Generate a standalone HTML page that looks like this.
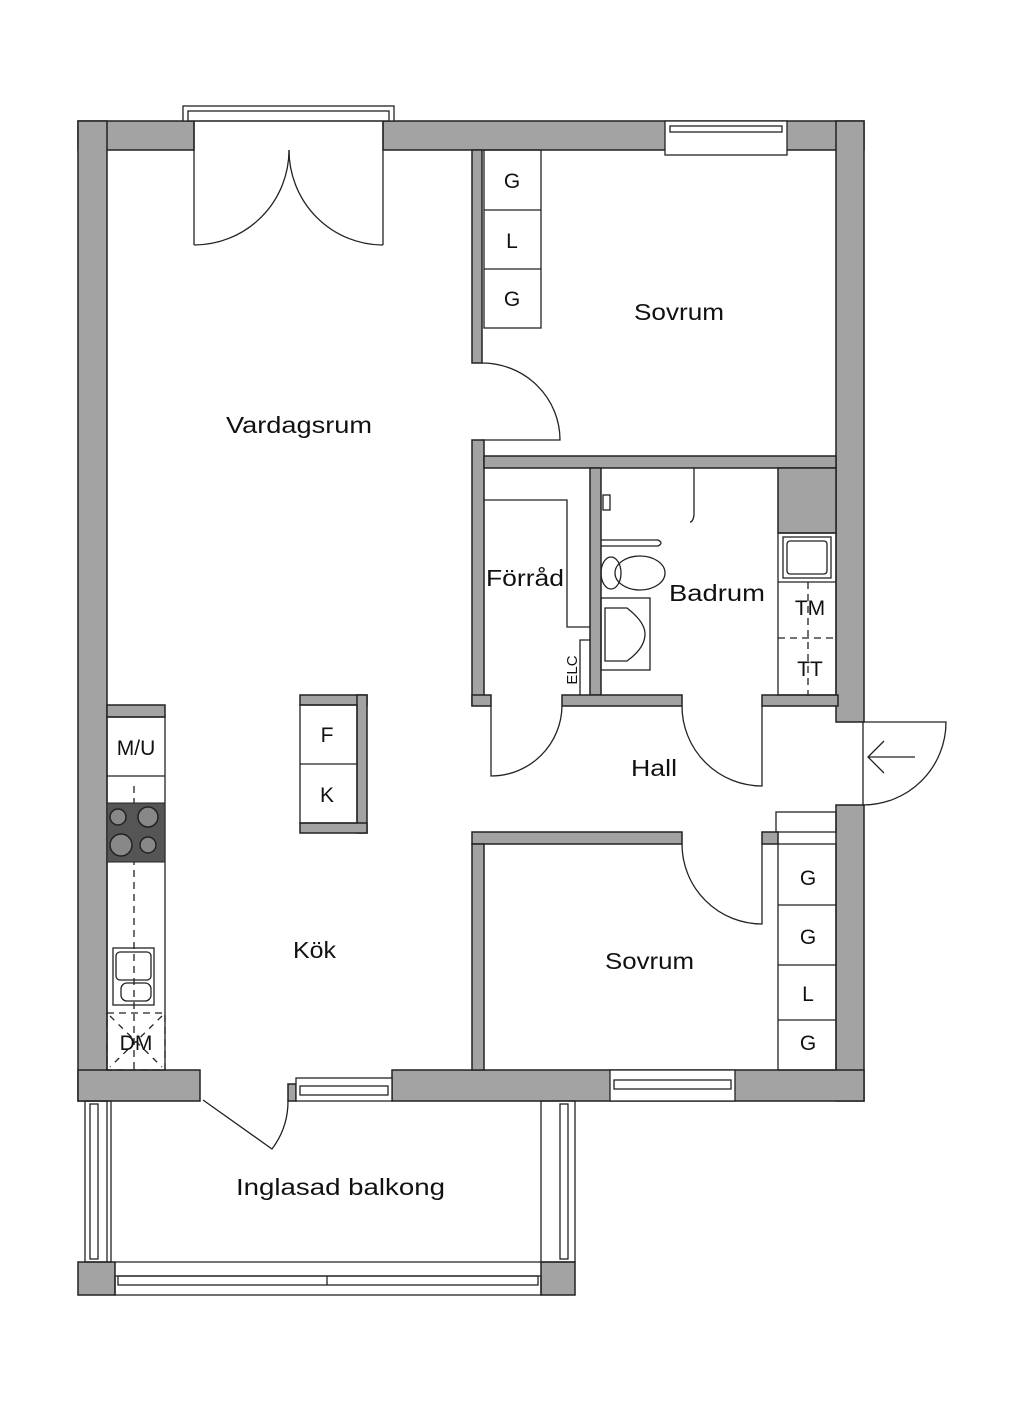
<!DOCTYPE html>
<html><head><meta charset="utf-8"><style>
html,body{margin:0;padding:0;background:#fff;}
svg{display:block;}
text{font-family:"Liberation Sans",sans-serif;fill:#111;}
</style></head><body>
<svg width="1024" height="1402" viewBox="0 0 1024 1402" xmlns="http://www.w3.org/2000/svg">
<g fill="#a3a3a3" stroke="#222" stroke-width="1.5">
<rect x="78" y="121" width="116" height="29"/>
<rect x="383" y="121" width="481" height="29"/>
<rect x="78" y="121" width="29" height="980"/>
<rect x="836" y="121" width="28" height="601"/>
<rect x="836" y="805" width="28" height="296"/>
<rect x="78" y="1070" width="122" height="31"/>
<rect x="288" y="1084" width="8" height="17"/>
<rect x="392" y="1070" width="472" height="31"/>
<rect x="472" y="150" width="10" height="213"/>
<rect x="472" y="440" width="12" height="265"/>
<rect x="484" y="456" width="352" height="12"/>
<rect x="590" y="468" width="11" height="227"/>
<rect x="778" y="468" width="58" height="65"/>
<rect x="472" y="695" width="19" height="11"/>
<rect x="562" y="695" width="120" height="11"/>
<rect x="762" y="695" width="76" height="11"/>
<rect x="472" y="832" width="210" height="12"/>
<rect x="762" y="832" width="16" height="12"/>
<rect x="472" y="844" width="12" height="226"/>
<rect x="107" y="705" width="58" height="12"/>
<rect x="300" y="695" width="67" height="10"/>
<rect x="357" y="695" width="10" height="138"/>
<rect x="300" y="823" width="67" height="10"/>
<rect x="78" y="1262" width="37" height="33"/>
<rect x="541" y="1262" width="34" height="33"/>
</g>
<g fill="none" stroke="#222" stroke-width="1.3">
<rect x="183" y="106" width="211" height="15" fill="#fff"/>
<rect x="188" y="111" width="201" height="10"/>
<line x1="194" y1="121" x2="194" y2="245"/>
<line x1="383" y1="121" x2="383" y2="245"/>
<path d="M194 245 A95 95 0 0 0 289 150"/>
<path d="M383 245 A94 95 0 0 1 289 150"/>
<rect x="665" y="121" width="122" height="34" fill="#fff"/>
<rect x="670" y="126" width="112" height="6"/>
<rect x="484" y="150" width="57" height="178"/>
<line x1="484" y1="210" x2="541" y2="210"/><line x1="484" y1="269" x2="541" y2="269"/>
<path d="M482 363 A78 77 0 0 1 560 440 L482 440"/>
<path d="M484 500 L567 500 L567 627 L590 627"/>
<path d="M590 640 L580 640 L580 695"/>
<path d="M694 468 L694 515 Q693 522 690 522"/>
<path d="M601 540 L658 540 Q664 543 658 546 L601 546"/>
<ellipse cx="640" cy="573" rx="25" ry="17"/>
<ellipse cx="611" cy="573" rx="10" ry="16"/>
<rect x="601" y="598" width="49" height="72"/>
<path d="M605 608 L627 608 Q645 622 645 634 Q645 648 627 661 L605 661 Z"/>
<rect x="603" y="495" width="7" height="15"/>
<rect x="778" y="533" width="58" height="162"/>
<line x1="778" y1="582" x2="836" y2="582"/>
<rect x="783" y="537" width="48" height="41"/>
<rect x="787" y="541" width="40" height="33" rx="3"/>
<line x1="808" y1="582" x2="808" y2="695" stroke-dasharray="7,5"/>
<line x1="778" y1="638" x2="836" y2="638" stroke-dasharray="7,5"/>
<path d="M491 706 L491 776 A71 71 0 0 0 562 706"/>
<path d="M682 706 A80 80 0 0 0 762 786 L762 706"/>
<path d="M682 844 A80 80 0 0 0 762 924 L762 844"/>
<path d="M863 722 L946 722 A83 83 0 0 1 863 805 Z"/>
<path d="M915 757 L868 757 M884 741 L868 757 L884 773"/>
<rect x="776" y="812" width="60" height="20"/>
<rect x="778" y="844" width="58" height="226"/>
<line x1="778" y1="905" x2="836" y2="905"/><line x1="778" y1="965" x2="836" y2="965"/><line x1="778" y1="1020" x2="836" y2="1020"/>
<rect x="610" y="1070" width="125" height="31" fill="#fff"/><rect x="614" y="1080" width="117" height="9"/>
<rect x="107" y="717" width="58" height="353"/>
<line x1="107" y1="776" x2="165" y2="776"/>
<line x1="134" y1="786" x2="134" y2="1070" stroke-dasharray="7,5"/>
<rect x="113" y="948" width="41" height="57"/>
<rect x="116" y="952" width="35" height="28" rx="4"/>
<rect x="121" y="983" width="30" height="18" rx="6"/>
<rect x="107" y="1013" width="58" height="57" stroke-dasharray="7,5"/>
<line x1="110" y1="1016" x2="162" y2="1067" stroke-dasharray="6,6"/>
<line x1="162" y1="1016" x2="110" y2="1067" stroke-dasharray="6,6"/>
<rect x="300" y="705" width="57" height="118"/>
<line x1="300" y1="764" x2="357" y2="764"/>
<rect x="296" y="1078" width="96" height="23" fill="#fff"/><rect x="300" y="1086" width="88" height="9"/>
<path d="M203 1100 L272 1149 A80 80 0 0 0 288 1100"/>
<line x1="107" y1="1101" x2="107" y2="1262"/>
<rect x="85" y="1101" width="26" height="161"/>
<rect x="90" y="1104" width="8" height="155"/>
<rect x="541" y="1101" width="34" height="161"/>
<rect x="560" y="1104" width="8" height="155"/>
<line x1="115" y1="1262" x2="541" y2="1262"/>
<rect x="115" y="1276" width="426" height="19"/>
<rect x="118" y="1276" width="420" height="9"/>
<line x1="327" y1="1276" x2="327" y2="1285"/>
</g>
<rect x="107" y="803" width="58" height="59" fill="#555" stroke="#222"/>
<g fill="#888" stroke="#222" stroke-width="1.5">
<circle cx="118" cy="817" r="8"/><circle cx="148" cy="817" r="10"/>
<circle cx="121" cy="845" r="11"/><circle cx="148" cy="845" r="8"/>
</g>
<g font-size="23" lengthAdjust="spacingAndGlyphs">
<text x="226" y="433" textLength="146" lengthAdjust="spacingAndGlyphs">Vardagsrum</text>
<text x="634" y="320" textLength="90" lengthAdjust="spacingAndGlyphs">Sovrum</text>
<text x="486" y="586" textLength="78" lengthAdjust="spacingAndGlyphs">Förråd</text>
<text x="669" y="601" textLength="96" lengthAdjust="spacingAndGlyphs">Badrum</text>
<text x="631" y="776" textLength="46" lengthAdjust="spacingAndGlyphs">Hall</text>
<text x="293" y="958" textLength="43" lengthAdjust="spacingAndGlyphs">Kök</text>
<text x="605" y="969" textLength="89" lengthAdjust="spacingAndGlyphs">Sovrum</text>
<text x="236" y="1195" textLength="209" lengthAdjust="spacingAndGlyphs">Inglasad balkong</text>
</g>
<g font-size="21" text-anchor="middle">
<text x="512" y="188">G</text><text x="512" y="248">L</text><text x="512" y="306">G</text>
<text x="327" y="742">F</text><text x="327" y="802">K</text>
<text x="136" y="755">M/U</text><text x="136" y="1050">DM</text>
<text x="810" y="615">TM</text><text x="810" y="676">TT</text>
<text x="808" y="885">G</text><text x="808" y="944">G</text><text x="808" y="1001">L</text><text x="808" y="1050">G</text>
<text transform="translate(577,670) rotate(-90)" font-size="15">ELC</text>
</g>
</svg>
</body></html>
